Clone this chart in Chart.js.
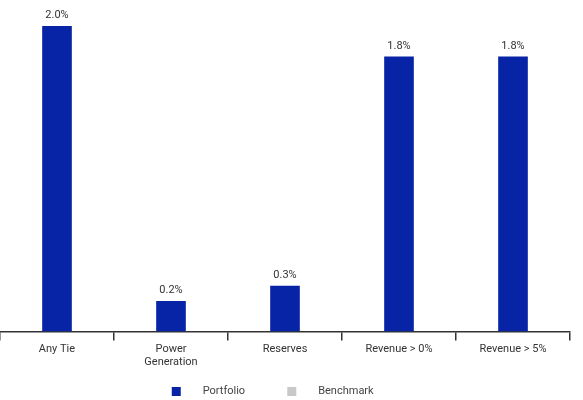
<!DOCTYPE html>
<html>
<head>
<meta charset="utf-8">
<script src="https://cdn.jsdelivr.net/npm/chart.js@4.4.1/dist/chart.umd.min.js"></script>
<style>
  html, body { margin: 0; padding: 0; background: #fff; }
  #wrap { width: 583px; height: 400px; position: relative; }
</style>
</head>
<body>
<div id="wrap"><canvas id="myChart"></canvas></div>
<script>
const categories = ['Any Tie', ['Power', 'Generation'], 'Reserves', 'Revenue > 0%', 'Revenue > 5%'];
const portfolio = [2.0, 0.2, 0.3, 1.8, 1.8];
const benchmark = [null, null, null, null, null];

// labels above the bars
const valueLabels = {
    id: 'valueLabels',
    afterDatasetsDraw(chart) {
        const ctx = chart.ctx;
        ctx.save();
        ctx.font = '11px Roboto';
        ctx.fillStyle = '#333';
        ctx.textAlign = 'center';
        ctx.textBaseline = 'bottom';
        chart.data.datasets.forEach((ds, i) => {
            chart.getDatasetMeta(i).data.forEach((bar, j) => {
                if (ds.data[j] == null) return;
                ctx.fillText(ds.data[j].toFixed(1) + '%', bar.x, bar.y - 5);
            });
        });
        ctx.restore();
    }
};

// push the legend a bit closer to the bottom edge
const legendLower = {
    id: 'legendLower',
    beforeInit(chart) {
        const legend = chart.legend;
        const fit = legend.fit;
        legend.fit = function () {
            fit.call(this);
            this.height -= 7;
        };
    }
};

const ctx = document.getElementById('myChart').getContext('2d');
new Chart(ctx, {
    type: 'bar',
    data: {
        labels: categories,
        datasets: [{
            label: 'Portfolio',
            data: portfolio,
            backgroundColor: '#0723a6',
            barPercentage: 0.26,
            categoryPercentage: 1
        }, {
            label: 'Benchmark',
            data: benchmark,
            backgroundColor: '#c8c8c8',
            barPercentage: 0.26,
            categoryPercentage: 1
        }]
    },
    options: {
        responsive: true,
        maintainAspectRatio: false,
        animation: false,
        layout: {
            padding: { top: 26, right: 13, left: 0, bottom: 0 }
        },
        datasets: {
            bar: { grouped: false }
        },
        scales: {
            x: {
                afterFit(scale) {
                    // extra room between the tick labels and the legend
                    scale.height += 11;
                },
                grid: {
                    display: true,
                    drawOnChartArea: false,
                    drawTicks: true,
                    tickLength: 9,
                    offset: true,
                    color: '#333',
                    lineWidth: 1.5
                },
                border: { display: true, color: '#333', width: 1.5 },
                ticks: {
                    color: '#333',
                    font: { family: 'Roboto', size: 11 },
                    padding: 2,
                    maxRotation: 0
                }
            },
            y: {
                display: false,
                min: 0,
                max: 2.0
            }
        },
        plugins: {
            legend: {
                display: true,
                position: 'bottom',
                labels: {
                    color: '#444',
                    font: { family: 'Roboto', size: 11 },
                    boxWidth: 9,
                    boxHeight: 9,
                    padding: 4,
                    generateLabels(chart) {
                        return chart.data.datasets.map((ds, i) => ({
                            text: '      ' + ds.label + (i === 0 ? '              ' : '         '),
                            fillStyle: ds.backgroundColor,
                            strokeStyle: ds.backgroundColor,
                            lineWidth: 0,
                            fontColor: '#444',
                            hidden: false,
                            datasetIndex: i
                        }));
                    }
                }
            },
            tooltip: { enabled: false }
        }
    },
    plugins: [valueLabels, legendLower]
});
</script>
</body>
</html>
